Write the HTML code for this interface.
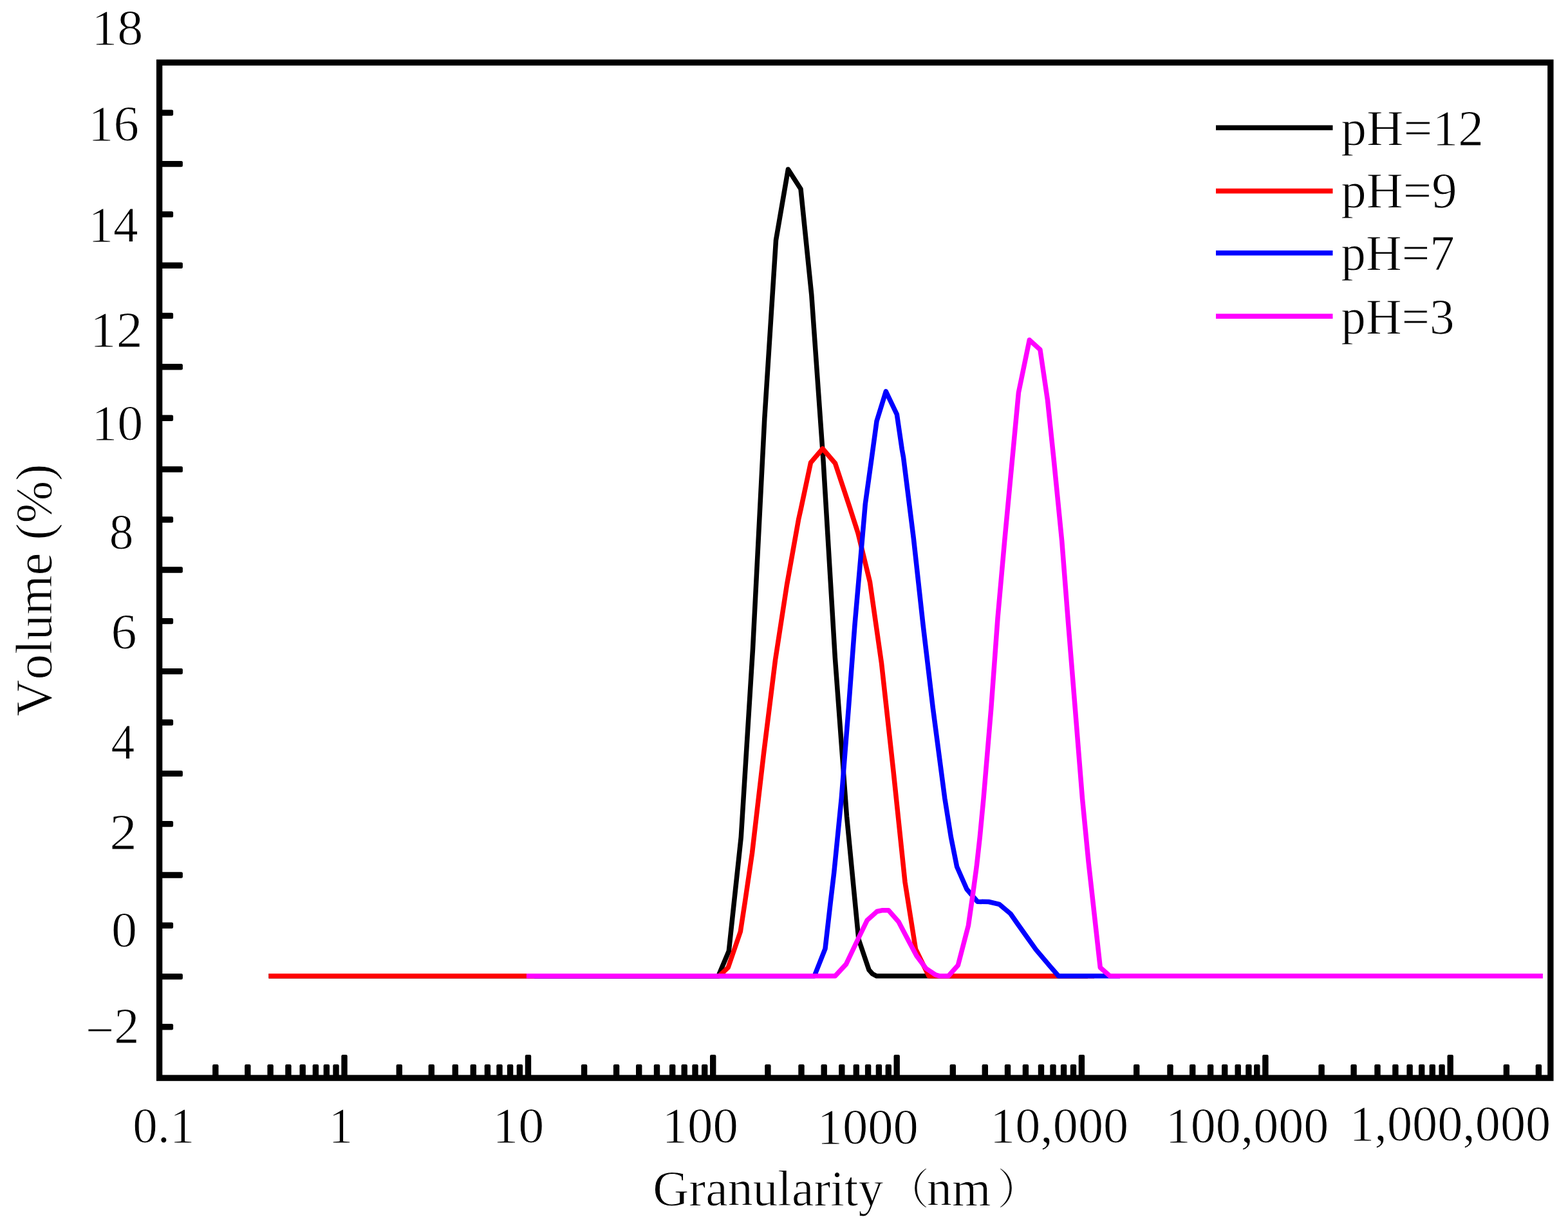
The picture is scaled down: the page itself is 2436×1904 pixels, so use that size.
<!DOCTYPE html>
<html lang="en"><head><meta charset="utf-8"><title>Particle size distribution at different pH</title>
<style>
html,body{margin:0;padding:0;background:#fff;}
body{width:2436px;height:1904px;overflow:hidden;}
svg{display:block;}
text{font-family:"Liberation Serif","Noto Serif CJK SC",serif;fill:#000;font-kerning:none;white-space:pre;stroke:#fff;stroke-width:1px;stroke-linejoin:round;paint-order:fill stroke;}
</style></head><body>
<svg width="2436" height="1904" viewBox="0 0 2436 1904">
<rect x="0" y="0" width="2436" height="1904" fill="#fff"/>
<g id="curves">
<polyline points="417.5,1515.8 1116.0,1515.8 1132.3,1477.0 1151.3,1300.0 1169.5,1008.0 1187.8,650.0 1205.5,373.0 1224.4,263.0 1244.0,293.5 1260.8,458.0 1279.0,715.0 1297.3,1021.0 1315.5,1268.0 1333.9,1458.6 1350.0,1506.2 1355.5,1512.5 1362.0,1515.8 1690.0,1515.8" fill="none" stroke="#000" stroke-width="7.5" stroke-linejoin="round" stroke-linecap="butt"/>
<polyline points="417.5,1515.8 1117.3,1515.8 1131.2,1502.6 1150.3,1446.9 1157.5,1400.0 1168.5,1325.0 1186.5,1170.0 1204.5,1025.0 1222.5,908.0 1240.8,805.7 1244.3,790.1 1259.5,718.5 1278.0,696.8 1297.5,719.5 1319.9,787.2 1333.0,828.0 1351.5,904.0 1369.5,1030.0 1388.0,1198.0 1406.0,1370.0 1422.5,1474.0 1443.0,1515.8 1700.0,1515.8" fill="none" stroke="#f00" stroke-width="7.5" stroke-linejoin="round" stroke-linecap="butt"/>
<polyline points="830.0,1515.8 1265.2,1515.8 1282.0,1473.3 1290.4,1400.0 1295.7,1355.4 1307.2,1240.0 1318.3,1100.0 1328.0,970.0 1337.2,864.8 1344.3,782.4 1354.4,710.0 1362.0,654.2 1376.3,607.8 1393.4,643.7 1401.3,697.8 1403.5,710.0 1419.3,836.0 1434.0,970.0 1449.4,1100.0 1467.8,1240.0 1477.4,1300.0 1486.6,1346.0 1502.0,1381.0 1518.6,1400.3 1536.0,1400.5 1552.5,1404.4 1569.9,1419.0 1580.0,1433.5 1596.0,1456.0 1609.3,1474.7 1631.3,1500.7 1644.5,1515.8 1740.0,1515.8" fill="none" stroke="#00f" stroke-width="7.5" stroke-linejoin="round" stroke-linecap="butt"/>
<polyline points="817.9,1515.8 1297.5,1515.8 1314.5,1497.4 1330.8,1463.0 1347.1,1429.3 1362.5,1415.5 1370.0,1413.8 1380.4,1413.8 1396.0,1431.5 1412.0,1462.0 1424.0,1484.6 1438.6,1504.0 1453.3,1513.9 1460.0,1515.8 1473.4,1515.8 1488.4,1498.9 1500.2,1453.5 1504.4,1437.4 1511.0,1391.6 1517.2,1345.8 1522.3,1300.0 1528.0,1240.0 1539.8,1100.0 1550.0,960.0 1560.7,840.0 1572.5,715.0 1582.4,609.8 1599.3,528.0 1615.9,543.0 1627.5,621.5 1637.3,715.0 1649.7,840.0 1659.8,970.0 1670.3,1100.0 1681.5,1240.0 1691.2,1340.0 1697.9,1400.0 1709.3,1502.6 1724.3,1515.8 2396.9,1515.8" fill="none" stroke="#f0f" stroke-width="7.5" stroke-linejoin="round" stroke-linecap="butt"/>
</g>
<g id="ticks" fill="#000">
<rect x="247.6" y="170.40" width="21.50" height="9.4" rx="2.2"/>
<rect x="247.6" y="249.90" width="36.30" height="9.4" rx="2.2"/>
<rect x="247.6" y="328.20" width="21.50" height="9.4" rx="2.2"/>
<rect x="247.6" y="407.60" width="36.30" height="9.4" rx="2.2"/>
<rect x="247.6" y="485.70" width="21.50" height="9.4" rx="2.2"/>
<rect x="247.6" y="565.00" width="36.30" height="9.4" rx="2.2"/>
<rect x="247.6" y="644.60" width="21.50" height="9.4" rx="2.2"/>
<rect x="247.6" y="724.20" width="36.30" height="9.4" rx="2.2"/>
<rect x="247.6" y="802.30" width="21.50" height="9.4" rx="2.2"/>
<rect x="247.6" y="880.30" width="36.30" height="9.4" rx="2.2"/>
<rect x="247.6" y="959.90" width="21.50" height="9.4" rx="2.2"/>
<rect x="247.6" y="1037.90" width="36.30" height="9.4" rx="2.2"/>
<rect x="247.6" y="1117.30" width="21.50" height="9.4" rx="2.2"/>
<rect x="247.6" y="1196.70" width="36.30" height="9.4" rx="2.2"/>
<rect x="247.6" y="1274.90" width="21.50" height="9.4" rx="2.2"/>
<rect x="247.6" y="1354.30" width="36.30" height="9.4" rx="2.2"/>
<rect x="247.6" y="1432.50" width="21.50" height="9.4" rx="2.2"/>
<rect x="247.6" y="1511.90" width="36.30" height="9.4" rx="2.2"/>
<rect x="247.6" y="1590.10" width="21.50" height="9.4" rx="2.2"/>
<rect x="530.30" y="1637.9" width="9.4" height="36.20" rx="2.2"/>
<rect x="815.80" y="1637.9" width="9.4" height="36.20" rx="2.2"/>
<rect x="1103.00" y="1637.9" width="9.4" height="36.20" rx="2.2"/>
<rect x="1388.50" y="1637.9" width="9.4" height="36.20" rx="2.2"/>
<rect x="1675.70" y="1637.9" width="9.4" height="36.20" rx="2.2"/>
<rect x="1961.20" y="1637.9" width="9.4" height="36.20" rx="2.2"/>
<rect x="2248.50" y="1637.9" width="9.4" height="36.20" rx="2.2"/>
<rect x="330.10" y="1653.0" width="9.4" height="21.10" rx="2.2"/>
<rect x="380.10" y="1653.0" width="9.4" height="21.10" rx="2.2"/>
<rect x="415.40" y="1653.0" width="9.4" height="21.10" rx="2.2"/>
<rect x="443.20" y="1653.0" width="9.4" height="21.10" rx="2.2"/>
<rect x="465.50" y="1653.0" width="9.4" height="21.10" rx="2.2"/>
<rect x="485.70" y="1653.0" width="9.4" height="21.10" rx="2.2"/>
<rect x="502.60" y="1653.0" width="9.4" height="21.10" rx="2.2"/>
<rect x="517.30" y="1653.0" width="9.4" height="21.10" rx="2.2"/>
<rect x="615.60" y="1653.0" width="9.4" height="21.10" rx="2.2"/>
<rect x="665.60" y="1653.0" width="9.4" height="21.10" rx="2.2"/>
<rect x="702.60" y="1653.0" width="9.4" height="21.10" rx="2.2"/>
<rect x="730.60" y="1653.0" width="9.4" height="21.10" rx="2.2"/>
<rect x="752.70" y="1653.0" width="9.4" height="21.10" rx="2.2"/>
<rect x="771.30" y="1653.0" width="9.4" height="21.10" rx="2.2"/>
<rect x="787.90" y="1653.0" width="9.4" height="21.10" rx="2.2"/>
<rect x="802.70" y="1653.0" width="9.4" height="21.10" rx="2.2"/>
<rect x="902.90" y="1653.0" width="9.4" height="21.10" rx="2.2"/>
<rect x="952.90" y="1653.0" width="9.4" height="21.10" rx="2.2"/>
<rect x="988.00" y="1653.0" width="9.4" height="21.10" rx="2.2"/>
<rect x="1015.80" y="1653.0" width="9.4" height="21.10" rx="2.2"/>
<rect x="1040.00" y="1653.0" width="9.4" height="21.10" rx="2.2"/>
<rect x="1058.50" y="1653.0" width="9.4" height="21.10" rx="2.2"/>
<rect x="1075.30" y="1653.0" width="9.4" height="21.10" rx="2.2"/>
<rect x="1090.00" y="1653.0" width="9.4" height="21.10" rx="2.2"/>
<rect x="1188.20" y="1653.0" width="9.4" height="21.10" rx="2.2"/>
<rect x="1240.30" y="1653.0" width="9.4" height="21.10" rx="2.2"/>
<rect x="1275.50" y="1653.0" width="9.4" height="21.10" rx="2.2"/>
<rect x="1303.10" y="1653.0" width="9.4" height="21.10" rx="2.2"/>
<rect x="1325.60" y="1653.0" width="9.4" height="21.10" rx="2.2"/>
<rect x="1343.90" y="1653.0" width="9.4" height="21.10" rx="2.2"/>
<rect x="1360.70" y="1653.0" width="9.4" height="21.10" rx="2.2"/>
<rect x="1375.60" y="1653.0" width="9.4" height="21.10" rx="2.2"/>
<rect x="1475.60" y="1653.0" width="9.4" height="21.10" rx="2.2"/>
<rect x="1525.60" y="1653.0" width="9.4" height="21.10" rx="2.2"/>
<rect x="1560.80" y="1653.0" width="9.4" height="21.10" rx="2.2"/>
<rect x="1588.70" y="1653.0" width="9.4" height="21.10" rx="2.2"/>
<rect x="1612.80" y="1653.0" width="9.4" height="21.10" rx="2.2"/>
<rect x="1631.30" y="1653.0" width="9.4" height="21.10" rx="2.2"/>
<rect x="1647.90" y="1653.0" width="9.4" height="21.10" rx="2.2"/>
<rect x="1662.80" y="1653.0" width="9.4" height="21.10" rx="2.2"/>
<rect x="1761.00" y="1653.0" width="9.4" height="21.10" rx="2.2"/>
<rect x="1813.30" y="1653.0" width="9.4" height="21.10" rx="2.2"/>
<rect x="1848.00" y="1653.0" width="9.4" height="21.10" rx="2.2"/>
<rect x="1875.90" y="1653.0" width="9.4" height="21.10" rx="2.2"/>
<rect x="1898.00" y="1653.0" width="9.4" height="21.10" rx="2.2"/>
<rect x="1918.50" y="1653.0" width="9.4" height="21.10" rx="2.2"/>
<rect x="1935.20" y="1653.0" width="9.4" height="21.10" rx="2.2"/>
<rect x="1948.10" y="1653.0" width="9.4" height="21.10" rx="2.2"/>
<rect x="2048.40" y="1653.0" width="9.4" height="21.10" rx="2.2"/>
<rect x="2098.40" y="1653.0" width="9.4" height="21.10" rx="2.2"/>
<rect x="2135.30" y="1653.0" width="9.4" height="21.10" rx="2.2"/>
<rect x="2163.20" y="1653.0" width="9.4" height="21.10" rx="2.2"/>
<rect x="2185.40" y="1653.0" width="9.4" height="21.10" rx="2.2"/>
<rect x="2204.00" y="1653.0" width="9.4" height="21.10" rx="2.2"/>
<rect x="2220.60" y="1653.0" width="9.4" height="21.10" rx="2.2"/>
<rect x="2235.40" y="1653.0" width="9.4" height="21.10" rx="2.2"/>
<rect x="2335.70" y="1653.0" width="9.4" height="21.10" rx="2.2"/>
<rect x="2385.70" y="1653.0" width="9.4" height="21.10" rx="2.2"/>
</g>
<rect id="frame" x="247.6" y="97.1" width="2161.25" height="1577.00" fill="none" stroke="#000" stroke-width="9.4" stroke-linejoin="miter"/>
<g id="ylabels">
<text transform="translate(142.16 69.15) scale(1.0125 1)" font-size="79.1">18</text>
<text transform="translate(136.95 217.70) scale(0.9988 1)" font-size="79.1">16</text>
<text transform="translate(137.36 375.10) scale(0.9791 1)" font-size="79.1">14</text>
<text transform="translate(139.81 538.10) scale(1.0342 1)" font-size="79.1">12</text>
<text transform="translate(142.16 682.85) scale(1.0125 1)" font-size="79.1">10</text>
<text transform="translate(169.63 852.40) scale(0.9515 1)" font-size="79.1">8</text>
<text transform="translate(172.56 1006.50) scale(1.0120 1)" font-size="79.1">6</text>
<text transform="translate(172.57 1177.70) scale(0.9274 1)" font-size="79.1">4</text>
<text transform="translate(170.26 1318.20) scale(1.0754 1)" font-size="79.1">2</text>
<text transform="translate(172.95 1469.50) scale(1.0112 1)" font-size="79.1">0</text>
<text transform="translate(133.00 1618.80) scale(0.9900 1)" font-size="79.1"><tspan dy="7.5">−</tspan><tspan dy="-7.5">2</tspan></text>
</g>
<g id="xlabels">
<text transform="translate(206.17 1774.00) scale(0.9736 1)" font-size="79.1">0.1</text>
<text transform="translate(510.56 1774.00) scale(0.9550 1)" font-size="79.1">1</text>
<text transform="translate(765.16 1774.00) scale(1.0125 1)" font-size="79.1">10</text>
<text transform="translate(1028.58 1774.00) scale(0.9972 1)" font-size="79.1">100</text>
<text transform="translate(1269.59 1775.70) scale(0.9943 1)" font-size="79.1">1000</text>
<text transform="translate(1538.11 1774.00) scale(0.9887 1)" font-size="79.1">10,000</text>
<text transform="translate(1810.76 1774.00) scale(0.9861 1)" font-size="79.1">100,000</text>
<text transform="translate(2096.19 1770.50) scale(0.9895 1)" font-size="79.1">1,000,000</text>
</g>
<g id="legend">
<line x1="1889.0" y1="198.4" x2="2070.5" y2="198.4" stroke="#000" stroke-width="7.6"/>
<text transform="translate(2083.32 224.80) scale(1.0179 1)" font-size="78.2">pH=12</text>
<line x1="1889.0" y1="296.6" x2="2070.5" y2="296.6" stroke="#f00" stroke-width="7.6"/>
<text transform="translate(2083.33 321.50) scale(1.0086 1)" font-size="78.2">pH=9</text>
<line x1="1889.0" y1="392.9" x2="2070.5" y2="392.9" stroke="#00f" stroke-width="7.6"/>
<text transform="translate(2083.35 419.30) scale(0.9882 1)" font-size="78.2">pH=7</text>
<line x1="1889.0" y1="491.1" x2="2070.5" y2="491.1" stroke="#f0f" stroke-width="7.6"/>
<text transform="translate(2083.36 517.60) scale(0.9865 1)" font-size="78.2">pH=3</text>
</g>
<text id="ytitle" transform="translate(80.0 1112.49) rotate(-90) scale(0.9859 1)" font-size="80.0">Volume (%)</text>
<text id="xtitle" font-size="77.7"><tspan x="1014.21" y="1871.8">Granularity</tspan><tspan x="1377.65" y="1869.63" font-size="66.0">（</tspan><tspan x="1440.12" y="1871.8">nm</tspan><tspan x="1549.35" y="1869.63" font-size="66.0">）</tspan></text>
</svg>
</body></html>
